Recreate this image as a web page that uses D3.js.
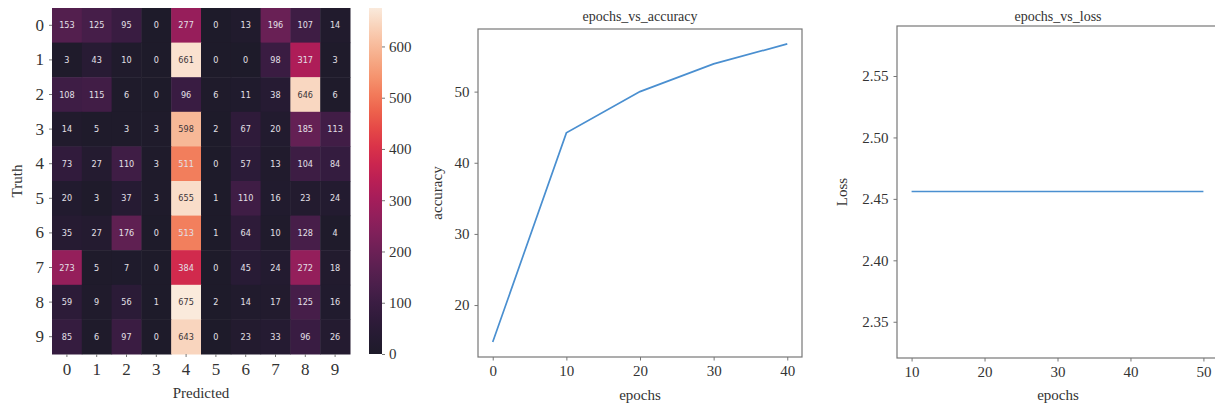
<!DOCTYPE html>
<html>
<head>
<meta charset="utf-8">
<script src="https://cdn.jsdelivr.net/npm/d3@7"></script>
<style>
  body { margin: 0; background: #fff; }
  svg { display: block; }
  .tick text { font-family: "Liberation Serif", serif; fill: #333; }
  .lbl { font-family: "Liberation Serif", serif; fill: #333; }
</style>
</head>
<body>
<svg id="chart"></svg>
<script>
// confusion matrix, rows = truth, cols = predicted
const classes = [0, 1, 2, 3, 4, 5, 6, 7, 8, 9];
const matrix = [
  [153, 125, 95, 0, 277, 0, 13, 196, 107, 14],
  [3, 43, 10, 0, 661, 0, 0, 98, 317, 3],
  [108, 115, 6, 0, 96, 6, 11, 38, 646, 6],
  [14, 5, 3, 3, 598, 2, 67, 20, 185, 113],
  [73, 27, 110, 3, 511, 0, 57, 13, 104, 84],
  [20, 3, 37, 3, 655, 1, 110, 16, 23, 24],
  [35, 27, 176, 0, 513, 1, 64, 10, 128, 4],
  [273, 5, 7, 0, 384, 0, 45, 24, 272, 18],
  [59, 9, 56, 1, 675, 2, 14, 17, 125, 16],
  [85, 6, 97, 0, 643, 0, 23, 33, 96, 26]
];
const colorTicks = [0, 100, 200, 300, 400, 500, 600];

// training curves
const accEpochs = [0, 10, 20, 30, 40];
const accuracy = [14.8, 44.2, 50.0, 53.9, 56.7];
const accTicksX = [0, 10, 20, 30, 40];
const accTicksY = [20, 30, 40, 50];

const lossEpochs = [10, 20, 30, 40, 50];
const loss = [2.456, 2.456, 2.456, 2.456, 2.456];
const lossTicksX = [10, 20, 30, 40, 50];
const lossTicksY = [2.35, 2.40, 2.45, 2.50, 2.55];

const width = 1215, height = 406;
const svg = d3.select("#chart").attr("width", width).attr("height", height);

// rocket-like palette (a bit faded like the picture)
const rocketStops = ["#1e1b2a", "#2c1a3a", "#4a1f4c", "#6c2157", "#931f5d", "#ba1b57",
                     "#dd2e47", "#ef6145", "#f5946c", "#f8be9c", "#faeadc"];
const maxVal = d3.max(matrix.flat());
const color = d3.scaleSequential(d3.interpolateRgbBasis(rocketStops)).domain([0, maxVal]);

function styleAxis(g, fs) {
  g.select(".domain").remove();
  g.selectAll(".tick line").attr("stroke", "#777").attr("stroke-width", 1);
  g.selectAll(".tick text").style("font-size", fs + "px");
}

// ---------- heatmap ----------
const hx = d3.scaleBand().domain(classes).range([52, 350]);
const hy = d3.scaleBand().domain(classes).range([8, 354]);

const cells = svg.append("g");
matrix.forEach((row, r) => {
  row.forEach((v, c) => {
    cells.append("rect")
      .attr("x", hx(c)).attr("y", hy(r))
      .attr("width", hx.bandwidth() + 0.5).attr("height", hy.bandwidth() + 0.5)
      .attr("fill", color(v));
    // light cells get dark text, like seaborn does
    const rgb = d3.rgb(color(v));
    const L = 0.2126 * rgb.r + 0.7152 * rgb.g + 0.0722 * rgb.b;
    cells.append("text")
      .attr("x", hx(c) + hx.bandwidth() / 2)
      .attr("y", hy(r) + hy.bandwidth() / 2)
      .attr("dy", "0.35em")
      .attr("text-anchor", "middle")
      .style("font-family", "'DejaVu Sans Condensed', 'Liberation Sans Narrow', sans-serif")
      .style("font-size", "9px")
      .attr("fill", L > 150 ? "#3a3438" : "#e4e0e8")
      .text(v);
  });
});

svg.append("g")
  .attr("transform", "translate(52,0)")
  .call(d3.axisLeft(hy).tickSize(3).tickPadding(5))
  .call(g => styleAxis(g, 17));

svg.append("g")
  .attr("transform", "translate(0,354)")
  .call(d3.axisBottom(hx).tickSize(3).tickPadding(6))
  .call(g => styleAxis(g, 17));

svg.append("text").attr("class", "lbl")
  .attr("x", 201).attr("y", 398).attr("text-anchor", "middle")
  .style("font-size", "15px").text("Predicted");
svg.append("text").attr("class", "lbl")
  .attr("transform", "translate(22,181) rotate(-90)").attr("text-anchor", "middle")
  .style("font-size", "15px").text("Truth");

// colorbar
const cy = d3.scaleLinear().domain([0, maxVal]).range([354, 8]);
const grad = svg.append("defs").append("linearGradient")
  .attr("id", "cbar").attr("x1", 0).attr("y1", 1).attr("x2", 0).attr("y2", 0);
d3.range(0, 1.0001, 0.05).forEach(t => {
  grad.append("stop").attr("offset", t).attr("stop-color", color(t * maxVal));
});
svg.append("rect").attr("x", 369).attr("y", 8).attr("width", 13).attr("height", 346)
  .attr("fill", "url(#cbar)");
svg.append("g")
  .attr("transform", "translate(382,0)")
  .call(d3.axisRight(cy).tickValues(colorTicks).tickSize(3).tickPadding(4))
  .call(g => styleAxis(g, 15));

// ---------- line panels ----------
function linePanel(opt) {
  const x = d3.scaleLinear().domain(opt.xd).range(opt.xr);
  const y = d3.scaleLinear().domain(opt.yd).range(opt.yr);
  const g = svg.append("g");

  g.append("g")
    .attr("transform", `translate(0,${opt.yr[0]})`)
    .call(d3.axisBottom(x).tickValues(opt.tx).tickSize(3.5).tickPadding(5).tickFormat(d3.format("d")))
    .call(a => styleAxis(a, 15));
  g.append("g")
    .attr("transform", `translate(${opt.xr[0]},0)`)
    .call(d3.axisLeft(y).tickValues(opt.ty).tickSize(3.5).tickPadding(5).tickFormat(opt.fy))
    .call(a => styleAxis(a, 15));

  g.append("path")
    .datum(opt.xs.map((d, i) => [d, opt.ys[i]]))
    .attr("fill", "none")
    .attr("stroke", "#4a8fd0")
    .attr("stroke-width", 1.7)
    .attr("d", d3.line().x(d => x(d[0])).y(d => y(d[1])));

  g.append("rect")
    .attr("x", opt.xr[0]).attr("y", opt.yr[1])
    .attr("width", opt.xr[1] - opt.xr[0]).attr("height", opt.yr[0] - opt.yr[1])
    .attr("fill", "none").attr("stroke", "#777").attr("stroke-width", 1.2);

  const cx = opt.titleX;
  g.append("text").attr("class", "lbl")
    .attr("x", cx).attr("y", 21).attr("text-anchor", "middle")
    .style("font-size", "14px").text(opt.title);
  g.append("text").attr("class", "lbl")
    .attr("x", cx).attr("y", 400).attr("text-anchor", "middle")
    .style("font-size", "15px").text("epochs");
  g.append("text").attr("class", "lbl")
    .attr("transform", `translate(${opt.ylx},${(opt.yr[0] + opt.yr[1]) / 2}) rotate(-90)`)
    .attr("text-anchor", "middle")
    .style("font-size", "15px").text(opt.ylabel);
}

linePanel({
  xd: [-2, 42], xr: [478, 802],
  yd: [12.7, 58.8], yr: [357, 29],
  tx: accTicksX, ty: accTicksY, fy: d3.format("d"),
  xs: accEpochs, ys: accuracy,
  title: "epochs_vs_accuracy", titleX: 640,
  ylabel: "accuracy", ylx: 442
});

linePanel({
  xd: [8, 52], xr: [897, 1218],
  yd: [2.3205, 2.5907], yr: [358, 26],
  tx: lossTicksX, ty: lossTicksY, fy: d3.format(".2f"),
  xs: lossEpochs, ys: loss,
  title: "epochs_vs_loss", titleX: 1058,
  ylabel: "Loss", ylx: 847
});
</script>
</body>
</html>
